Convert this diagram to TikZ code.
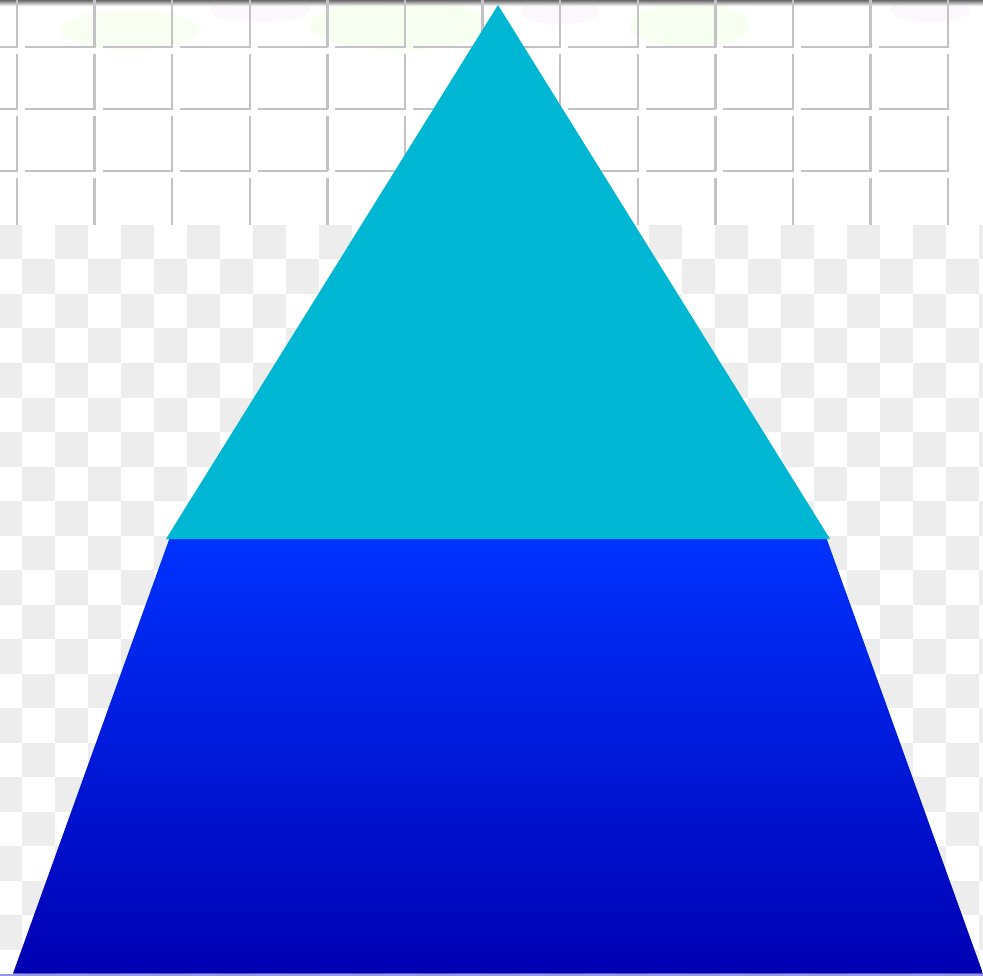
\documentclass[tikz,border=0pt]{standalone}
\usetikzlibrary{calc}
\definecolor{tileline}{RGB}{196,194,198}
\definecolor{checkgray}{RGB}{237,237,237}
\definecolor{tricyan}{RGB}{0,183,211}
\definecolor{trapTop}{RGB}{0,50,255}
\definecolor{trapMid}{RGB}{0,16,214}
\definecolor{trapBot}{RGB}{0,0,178}
\definecolor{edgelav}{RGB}{150,150,232}
\tikzset{
  tileedge/.style={draw=tileline,line width=2.4pt},
  checksq/.style={fill=checkgray},
}
\begin{document}
\begin{tikzpicture}[x=1pt,y=-1pt]
\useasboundingbox (0,0) rectangle (983,976);
\fill[white] (0,0) rectangle (983,976);
% ---- top tiled wall ----
\begin{scope}
  \clip (0,0) rectangle (983,225);
  % faint picture strip in top row
  \fill[green!60!yellow,opacity=0.06] (400,25) ellipse (90 and 25);
  \fill[green!60!yellow,opacity=0.06] (690,25) ellipse (60 and 22);
  \fill[green!50!yellow,opacity=0.05] (130,30) ellipse (70 and 20);
  \fill[violet!60,opacity=0.05] (260,10) ellipse (50 and 12);
  \fill[violet!60,opacity=0.05] (560,12) ellipse (40 and 12);
  \fill[violet!60,opacity=0.05] (930,10) ellipse (40 and 12);
  \shade[top color=black!65,bottom color=white,opacity=0.9] (0,0) rectangle (983,6);
  \foreach \k in {0,...,13}{
    \foreach \yt/\yb in {-15/47,47/109,109/171,171/233}{
      \pgfmathsetmacro\xr{17+77.6*(\k-1)}
      \pgfmathsetmacro\xl{\xr-77.6}
      \draw[tileedge] (\xl+8,\yb) -- (\xr+1,\yb);
      \draw[tileedge] (\xr,\yt+7) -- (\xr,\yb);
    }
  }
\end{scope}
% ---- checkerboard ----
\begin{scope}
  \clip (0,225) rectangle (983,976);
  \foreach \r in {0,...,22}{
    \foreach \c in {0,...,30}{
      \pgfmathtruncatemacro\s{mod(\r+\c,2)}
      \ifnum\s=0
        \fill[checksq] (-11+33*\c,225+34.5*\r) rectangle ++(33,34.5);
      \fi
    }
  }
\end{scope}
% ---- pyramid ----
\coordinate (apex) at (498,5);
\coordinate (tl) at (166,539);
\coordinate (tr) at (830,539);
\coordinate (ql) at (170,537);
\coordinate (qr) at (826,537);
\coordinate (br) at (983,973.5);
\coordinate (bl) at (13,973.5);
\shade[top color=trapTop,middle color=trapMid,bottom color=trapBot]
  (ql) -- (qr) -- (br) -- (bl) -- cycle;
\fill[edgelav] (0,973.5) rectangle (983,976);
\fill[tricyan] (apex) -- (tr) -- (tl) -- cycle;
\end{tikzpicture}
\end{document}
